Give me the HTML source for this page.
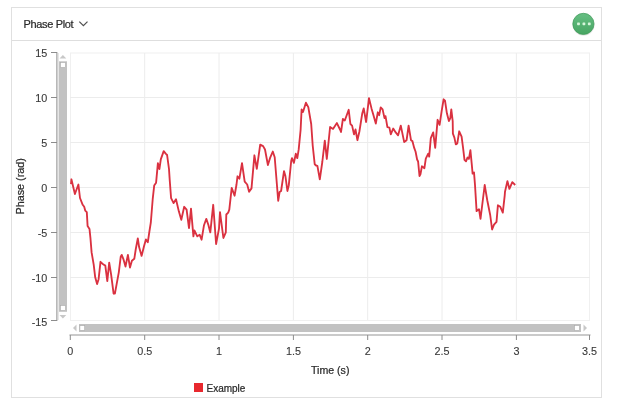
<!DOCTYPE html>
<html><head><meta charset="utf-8">
<style>
html,body{margin:0;padding:0;background:#fff;width:621px;height:413px;overflow:hidden}
svg{position:absolute;left:0;top:0;will-change:transform;font-family:"Liberation Sans",sans-serif}
</style></head><body>
<svg width="621" height="413" viewBox="0 0 621 413">
<rect x="11.5" y="7.5" width="590" height="390" fill="#fff" stroke="#e0e0e0" stroke-width="1"/>
<line x1="12" y1="40.5" x2="601" y2="40.5" stroke="#dedede" stroke-width="1"/>
<text x="23.6" y="28.2" font-size="11" fill="#2a2a2a" stroke="#2a2a2a" stroke-width="0.22" letter-spacing="-0.35">Phase Plot</text>
<polyline points="79.3,21.6 83.4,25.6 87.5,21.6" fill="none" stroke="#505050" stroke-width="1.25"/>
<defs><linearGradient id="gb" x1="0" y1="0" x2="0" y2="1"><stop offset="0" stop-color="#66bf83"/><stop offset="1" stop-color="#47a562"/></linearGradient></defs>
<circle cx="583.6" cy="24.8" r="11" fill="#000" opacity="0.1"/>
<circle cx="583.4" cy="23.9" r="10.6" fill="url(#gb)" stroke="#3e9957" stroke-width="0.7"/>
<rect x="577.1" y="22.4" width="2.8" height="2.8" rx="0.7" fill="#d6f5da"/>
<rect x="582.5" y="22.4" width="2.8" height="2.8" rx="0.7" fill="#d6f5da"/>
<rect x="587.9" y="22.4" width="2.8" height="2.8" rx="0.7" fill="#d6f5da"/>
<rect x="70.5" y="53" width="519" height="267.5" fill="none" stroke="#f0f0f0" stroke-width="1"/>
<g stroke="#ececec" stroke-width="1"><line x1="70" y1="97.5" x2="590" y2="97.5"/><line x1="70" y1="142.5" x2="590" y2="142.5"/><line x1="70" y1="187.5" x2="590" y2="187.5"/><line x1="70" y1="232.5" x2="590" y2="232.5"/><line x1="70" y1="277.5" x2="590" y2="277.5"/><line x1="144.7" y1="53" x2="144.7" y2="320"/><line x1="219.0" y1="53" x2="219.0" y2="320"/><line x1="293.4" y1="53" x2="293.4" y2="320"/><line x1="367.7" y1="53" x2="367.7" y2="320"/><line x1="442.0" y1="53" x2="442.0" y2="320"/><line x1="516.4" y1="53" x2="516.4" y2="320"/></g>
<rect x="57.5" y="53" width="1.5" height="267" fill="#e6e6e6"/><g stroke="#b8b8b8" stroke-width="1.6"><line x1="56.8" y1="52" x2="56.8" y2="321"/><line x1="69.5" y1="335" x2="590.5" y2="335"/></g>
<g stroke="#8c8c8c" stroke-width="1"><line x1="51" y1="52.5" x2="57" y2="52.5"/><line x1="51" y1="97.5" x2="57" y2="97.5"/><line x1="51" y1="142.5" x2="57" y2="142.5"/><line x1="51" y1="187.5" x2="57" y2="187.5"/><line x1="51" y1="232.5" x2="57" y2="232.5"/><line x1="51" y1="277.5" x2="57" y2="277.5"/><line x1="51" y1="320.5" x2="57" y2="320.5"/><line x1="70.3" y1="335" x2="70.3" y2="340"/><line x1="144.7" y1="335" x2="144.7" y2="340"/><line x1="219.0" y1="335" x2="219.0" y2="340"/><line x1="293.4" y1="335" x2="293.4" y2="340"/><line x1="367.7" y1="335" x2="367.7" y2="340"/><line x1="442.0" y1="335" x2="442.0" y2="340"/><line x1="516.4" y1="335" x2="516.4" y2="340"/><line x1="589.5" y1="335" x2="589.5" y2="340"/></g>
<rect x="59" y="61.3" width="8" height="250.5" fill="#c2c2c2"/>
<rect x="60.5" y="62.5" width="5" height="5" fill="#fff" stroke="#aaa" stroke-width="0.6"/>
<rect x="60.5" y="305.5" width="5" height="5" fill="#fff" stroke="#aaa" stroke-width="0.6"/>
<polygon points="59.5,58.5 62.9,55 66.3,58.5" fill="#c8c8c8"/>
<polygon points="59.5,315 62.9,318.5 66.3,315" fill="#c8c8c8"/>
<rect x="79" y="324" width="502" height="8" fill="#c2c2c2"/>
<rect x="79.9" y="325.6" width="4.8" height="4.8" fill="#fff" stroke="#aaa" stroke-width="0.6"/>
<rect x="574.5" y="325.5" width="5" height="5" fill="#fff" stroke="#aaa" stroke-width="0.6"/>
<polygon points="76.5,324.5 73,328 76.5,331.5" fill="#c8c8c8"/>
<polygon points="583.5,324.5 587,328 583.5,331.5" fill="#c8c8c8"/>
<g font-size="10.8" fill="#3a3a3a" stroke="#3a3a3a" stroke-width="0.12"><text x="47.3" y="57.1" text-anchor="end">15</text><text x="47.3" y="102.1" text-anchor="end">10</text><text x="47.3" y="147.1" text-anchor="end">5</text><text x="47.3" y="192.1" text-anchor="end">0</text><text x="47.3" y="237.1" text-anchor="end">-5</text><text x="47.3" y="282.1" text-anchor="end">-10</text><text x="47.3" y="326.1" text-anchor="end">-15</text><text x="70.3" y="355" text-anchor="middle">0</text><text x="144.7" y="355" text-anchor="middle">0.5</text><text x="219.0" y="355" text-anchor="middle">1</text><text x="293.4" y="355" text-anchor="middle">1.5</text><text x="367.7" y="355" text-anchor="middle">2</text><text x="442.0" y="355" text-anchor="middle">2.5</text><text x="516.4" y="355" text-anchor="middle">3</text><text x="589.5" y="355" text-anchor="middle">3.5</text></g>
<text x="330.2" y="374" font-size="10.6" fill="#2a2a2a" stroke="#2a2a2a" stroke-width="0.22" text-anchor="middle">Time (s)</text>
<text transform="translate(24,186.3) rotate(-90)" font-size="10.8" fill="#2a2a2a" stroke="#2a2a2a" stroke-width="0.22" text-anchor="middle">Phase (rad)</text>
<path d="M71.0,184.1 L71.4,179.3 L74.9,194.0 L78.4,184.5 L80.0,198.0 L82.7,204.8 L84.2,206.8 L85.2,210.6 L86.8,212.1 L87.6,226.1 L89.5,229.0 L90.5,238.7 L91.6,252.4 L93.7,264.7 L95.2,277.3 L97.1,284.0 L98.6,279.2 L100.5,261.8 L102.4,263.7 L103.9,264.7 L105.3,265.6 L107.3,281.1 L109.2,262.7 L111.1,274.4 L113.6,293.7 L114.9,293.6 L118.8,272.3 L120.7,256.8 L121.7,254.9 L123.6,259.7 L125.5,266.5 L127.9,254.9 L130.0,267.5 L131.9,260.7 L134.3,258.8 L135.8,249.0 L137.8,238.4 L139.1,247.1 L141.6,255.9 L144.0,246.2 L145.9,239.4 L147.8,242.3 L149.4,231.5 L150.8,222.7 L152.7,199.2 L154.2,185.6 L156.1,182.7 L157.9,163.2 L159.4,169.0 L160.8,159.4 L163.7,151.1 L165.7,153.6 L167.1,155.0 L169.0,169.0 L169.7,179.8 L171.1,198.2 L173.6,203.1 L176.0,199.2 L178.9,211.6 L181.3,219.8 L184.2,206.8 L186.6,209.7 L189.0,228.1 L191.0,208.7 L193.4,236.3 L194.4,230.5 L197.3,236.3 L199.7,234.8 L201.6,239.7 L204.0,225.2 L206.3,218.9 L208.4,225.0 L210.3,232.4 L213.2,204.8 L216.1,244.0 L219.0,228.6 L220.0,212.1 L223.4,238.0 L225.8,232.4 L226.3,214.5 L228.2,212.6 L229.3,209.7 L231.7,187.9 L234.6,195.7 L236.5,184.5 L237.5,176.3 L239.4,178.7 L242.0,163.1 L244.7,181.6 L247.2,184.5 L249.1,191.8 L251.5,188.4 L254.4,155.3 L256.8,168.9 L260.2,144.7 L263.1,146.1 L265.0,149.5 L267.9,165.0 L270.3,157.3 L272.8,151.5 L274.7,157.3 L278.2,200.8 L279.6,192.0 L281.1,191.0 L284.0,171.1 L285.4,176.0 L287.4,191.0 L288.8,185.2 L291.2,161.0 L292.0,158.1 L293.9,162.9 L295.8,153.7 L297.3,158.1 L298.7,149.4 L300.6,130.0 L301.6,109.5 L303.0,112.0 L305.9,102.7 L308.3,107.1 L311.2,124.0 L312.7,145.5 L314.7,164.2 L316.1,165.5 L317.4,165.8 L319.8,179.4 L322.3,162.0 L324.8,140.6 L326.8,159.0 L328.7,140.6 L330.1,127.0 L333.0,128.9 L336.9,123.1 L340.0,129.5 L341.0,132.0 L342.9,119.0 L344.8,120.5 L348.7,109.8 L350.4,124.0 L352.1,125.6 L354.0,134.4 L355.5,129.5 L357.4,140.2 L359.4,131.5 L362.3,113.2 L363.7,108.4 L366.1,122.0 L369.0,98.2 L371.5,108.4 L373.4,115.0 L375.8,123.5 L377.8,112.3 L379.2,115.2 L380.7,107.4 L382.6,109.4 L384.5,118.1 L385.5,116.1 L387.4,127.2 L389.4,127.6 L390.8,134.4 L393.2,128.5 L395.7,132.4 L398.1,135.3 L400.8,125.6 L404.2,142.1 L406.6,140.2 L408.6,125.6 L411.0,140.2 L412.4,141.1 L414.2,147.9 L415.6,151.8 L417.1,159.5 L418.1,161.5 L419.5,176.0 L420.5,174.0 L421.9,166.3 L424.4,168.2 L425.8,158.6 L428.2,153.7 L429.2,156.6 L430.8,138.2 L433.2,132.4 L435.2,147.9 L437.6,119.8 L439.6,124.8 L441.6,111.4 L443.6,99.3 L445.0,100.7 L446.9,113.3 L448.9,121.0 L450.3,118.1 L451.3,109.4 L452.7,121.0 L452.9,133.7 L454.4,137.6 L455.8,144.4 L457.3,143.4 L459.2,131.3 L461.6,136.6 L463.1,148.2 L464.5,159.8 L466.0,161.3 L467.5,157.5 L468.9,158.9 L470.4,150.2 L471.8,164.7 L472.6,173.6 L474.0,172.4 L475.0,185.0 L476.6,211.1 L479.0,209.2 L480.5,218.9 L482.9,199.5 L484.7,185.0 L487.3,200.5 L490.2,215.0 L492.1,229.5 L494.0,224.7 L496.5,221.8 L497.9,205.3 L500.3,206.8 L502.8,212.6 L504.7,195.6 L505.0,191.8 L507.4,181.1 L509.4,188.9 L512.3,182.1 L515.2,185.0" fill="none" stroke="#da3140" stroke-width="1.85" stroke-linejoin="round"/>
<rect x="194" y="383" width="9" height="9" fill="#e8282e"/>
<text x="206.5" y="391.5" font-size="10" fill="#2a2a2a" stroke="#2a2a2a" stroke-width="0.22">Example</text>
</svg>
</body></html>
